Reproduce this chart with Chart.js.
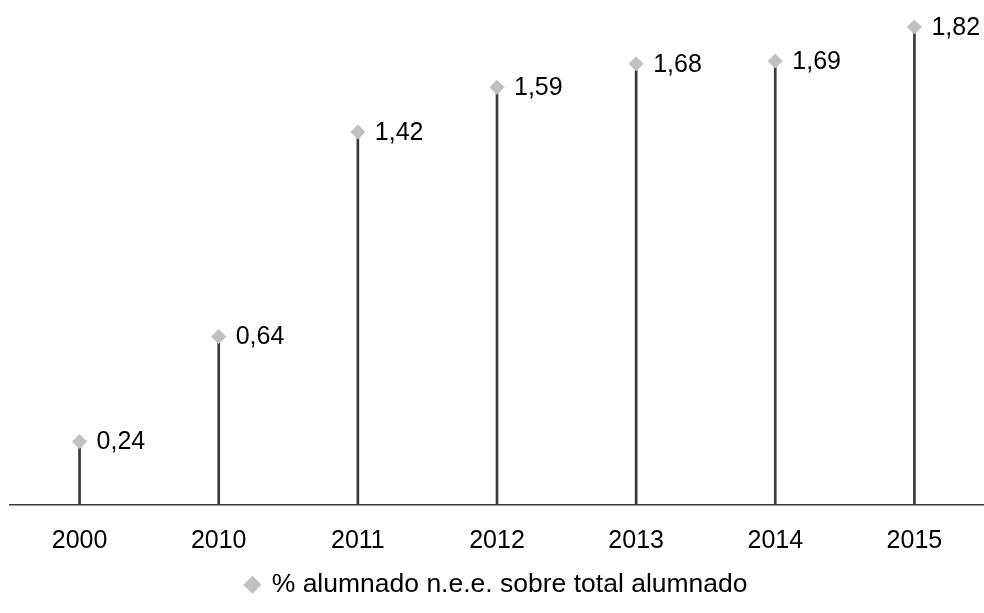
<!DOCTYPE html>
<html>
<head>
<meta charset="utf-8">
<script src="https://cdn.jsdelivr.net/npm/chart.js@4"></script>
<style>
  html, body { margin: 0; padding: 0; background: #ffffff; overflow: hidden; }
  #wrap { width: 984px; height: 613px; }
  canvas { display: block; }
</style>
</head>
<body>
<div id="wrap"><canvas id="c" width="984" height="613"></canvas></div>
<script>
const categories = ['2000', '2010', '2011', '2012', '2013', '2014', '2015'];
const values = [0.24, 0.64, 1.42, 1.59, 1.68, 1.69, 1.82];
const seriesLabel = '% alumnado n.e.e. sobre total alumnado';

const FONT = "'Liberation Sans', Arial, sans-serif";

const labelPlugin = {
  id: 'pointLabels',
  afterDatasetsDraw(chart) {
    const meta = chart.getDatasetMeta(1);
    const ctx = chart.ctx;
    ctx.save();
    ctx.font = '25px ' + FONT;
    ctx.fillStyle = '#000000';
    ctx.textAlign = 'left';
    ctx.textBaseline = 'middle';
    meta.data.forEach((pt, i) => {
      const txt = values[i].toFixed(2).replace('.', ',');
      ctx.fillText(txt, pt.x + 17, pt.y + 1);
    });
    ctx.restore();
  }
};

new Chart(document.getElementById('c'), {
  data: {
    labels: categories,
    datasets: [
      {
        type: 'bar',
        label: 'drop',
        data: values,
        backgroundColor: '#3a3a3a',
        borderWidth: 0,
        barThickness: 2,
        order: 2
      },
      {
        type: 'line',
        label: seriesLabel,
        data: values,
        showLine: false,
        pointStyle: 'rectRot',
        pointRadius: 7,
        pointHoverRadius: 7,
        pointBackgroundColor: '#c0c0c0',
        pointBorderColor: '#c0c0c0',
        backgroundColor: '#c0c0c0',
        borderColor: '#c0c0c0',
        order: 1,
        clip: false
      }
    ]
  },
  options: {
    responsive: false,
    animation: false,
    events: [],
    layout: { autoPadding: false, padding: { left: 10, right: 0, top: 6, bottom: 5 } },
    plugins: {
      tooltip: { enabled: false },
      legend: {
        position: 'bottom',
        labels: {
          filter: (item) => item.datasetIndex === 1,
          usePointStyle: true,
          pointStyle: 'rectRot',
          boxWidth: 12,
          boxHeight: 12,
          padding: 15,
          color: '#000000',
          font: { family: FONT, size: 26.5 }
        }
      }
    },
    scales: {
      x: {
        type: 'category',
        offset: true,
        grid: { display: false, drawTicks: true, tickLength: 22 },
        border: { display: true, color: '#3a3a3a', width: 1.5 },
        ticks: {
          color: '#000000',
          padding: 0,
          font: { family: FONT, size: 25 },
          maxRotation: 0
        }
      },
      y: {
        display: false,
        min: 0,
        max: 1.9
      }
    }
  },
  plugins: [labelPlugin]
});
</script>
</body>
</html>
